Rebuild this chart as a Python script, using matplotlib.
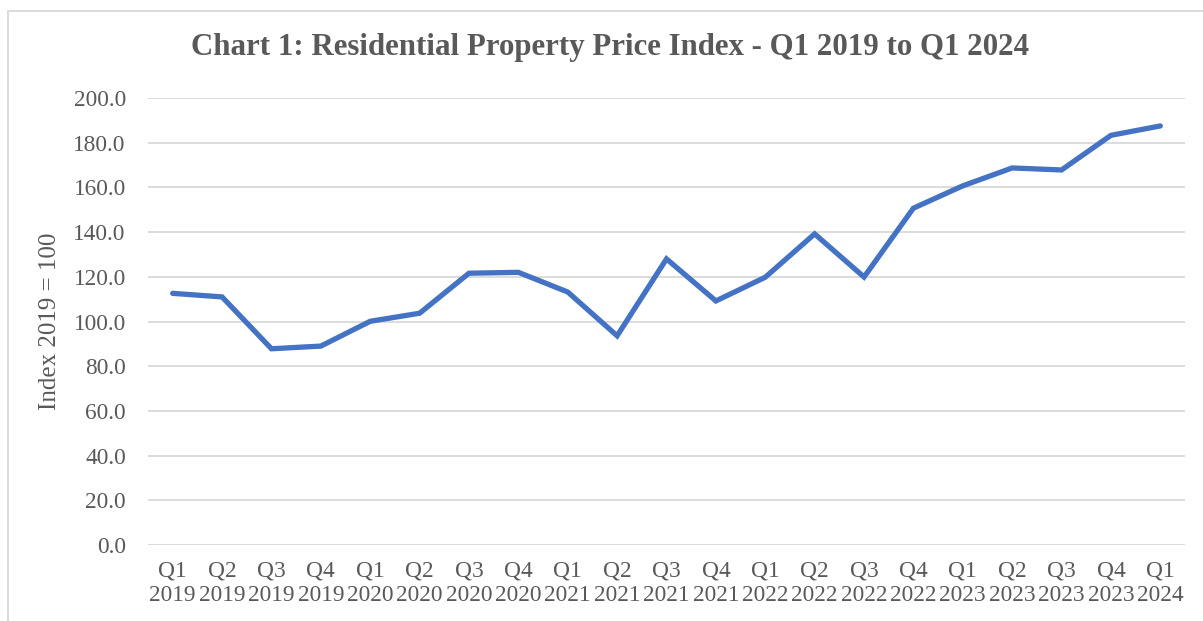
import matplotlib.pyplot as plt
from matplotlib.patches import Rectangle

quarters = ['Q1', 'Q2', 'Q3', 'Q4', 'Q1', 'Q2', 'Q3', 'Q4', 'Q1', 'Q2', 'Q3',
            'Q4', 'Q1', 'Q2', 'Q3', 'Q4', 'Q1', 'Q2', 'Q3', 'Q4', 'Q1']
years = ['2019'] * 4 + ['2020'] * 4 + ['2021'] * 4 + ['2022'] * 4 + ['2023'] * 4 + ['2024']
index_values = [112.6, 111.0, 87.8, 89.0, 100.1, 103.7, 121.6, 122.0, 113.2, 93.6, 128.0,
                109.2, 119.8, 139.2, 119.9, 150.7, 160.7, 168.7, 167.8, 183.3, 187.5]

grey = '#595959'
plt.rcParams['font.family'] = ['Liberation Serif', 'DejaVu Serif']

fig = plt.figure(figsize=(12.03, 6.21), dpi=100)
# chart border
fig.patches.append(Rectangle((8 / 1203, -0.1), 1.2, 1 - 11 / 621 + 0.1, transform=fig.transFigure,
                             fill=False, edgecolor='#d9d9d9', linewidth=1.3))
ax = fig.add_axes([148 / 1203, 1 - 545 / 621, 1037 / 1203, 447 / 621])

labels = [q + '\n' + y for q, y in zip(quarters, years)]
x = list(range(len(index_values)))
ax.plot(x, index_values, color='#4472C4', linewidth=3.8, solid_capstyle='round',
        solid_joinstyle='miter', zorder=3)

ax.set_xlim(-0.5, len(x) - 0.5)
ax.set_ylim(0, 200)
ax.set_yticks(range(0, 201, 20))
ax.set_yticklabels([f'{v:.1f}' for v in range(0, 201, 20)])
ax.set_xticks(x)
ax.set_xticklabels(labels, linespacing=1.25)
ax.tick_params(axis='both', length=0, labelsize=16.8, colors=grey)
ax.tick_params(axis='x', pad=11)
ax.tick_params(axis='y', pad=16)
ax.grid(axis='y', color='#d9d9d9', linewidth=1.3)
ax.set_axisbelow(True)
for s in ax.spines.values():
    s.set_visible(False)

ax.set_ylabel('Index 2019 = 100', fontsize=18, color=grey, labelpad=9)
fig.text(610 / 1203, 1 - 48 / 621, 'Chart 1: Residential Property Price Index - Q1 2019 to Q1 2024',
         ha='center', va='center', fontsize=22.2, fontweight='bold', color=grey)

fig.savefig('out.png', dpi=100)
